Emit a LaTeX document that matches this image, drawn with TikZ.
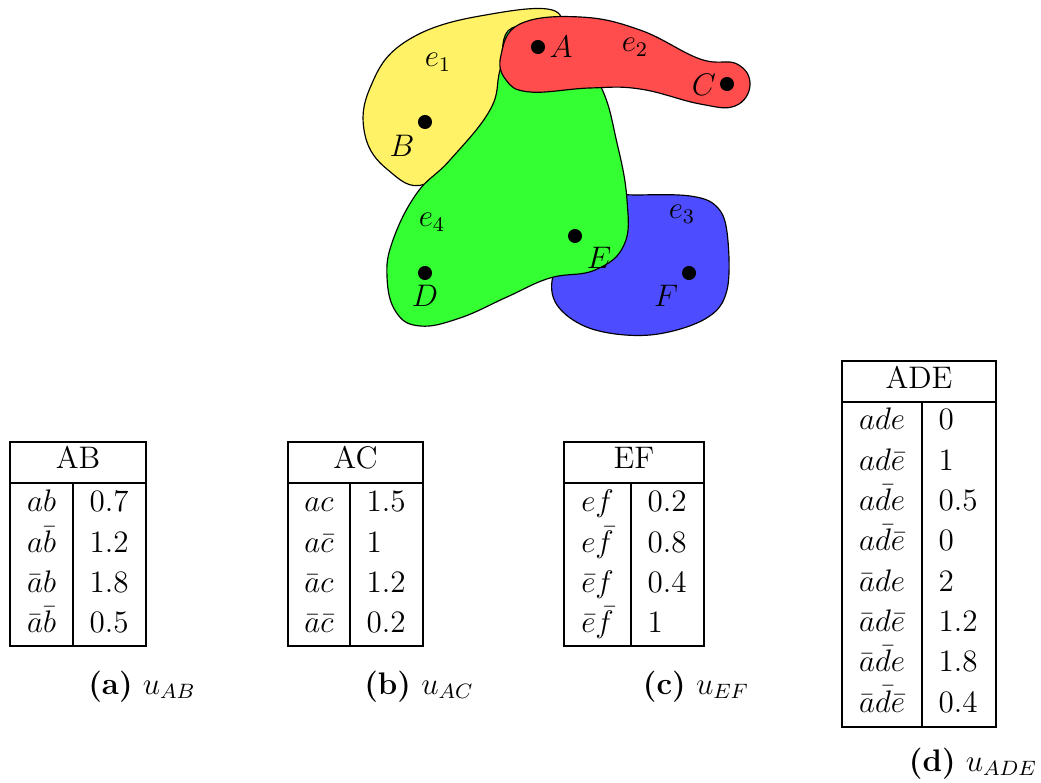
\documentclass[tikz,border=0pt]{standalone}
\definecolor{eyellow}{RGB}{255,242,102}
\definecolor{ered}{RGB}{255,77,77}
\definecolor{egreen}{RGB}{51,255,51}
\definecolor{eblue}{RGB}{77,77,255}
\begin{document}
\begin{tikzpicture}[x=0.385pt,y=-0.385pt,
  font=\fontsize{12}{14.5}\selectfont,
  hedge/.style={draw=black, line width=0.45pt},
  vertex/.style={circle, fill=black, inner sep=0pt, minimum size=5.4pt},
  vlabel/.style={inner sep=0pt, font=\fontsize{12}{14.5}\selectfont},
  cell/.style={anchor=base, inner sep=0pt},
  val/.style={anchor=base west, inner sep=0pt},
  rule/.style={draw=black, line width=0.4pt},
  caption/.style={anchor=base, inner sep=0pt}]
\useasboundingbox (0,0) rectangle (1041,783);

% ---------- hypergraph ----------
% e1 (yellow)
\path[hedge, fill=eyellow] plot[smooth cycle, tension=0.7] coordinates
  {(560,15) (480,16) (405,42) (370,88) (365,135) (388,170) (425,184) (470,140) (520,80)};
% e3 (blue)
\path[hedge, fill=eblue] plot[smooth cycle, tension=0.6] coordinates
  {(600,198) (640,195) (690,196) (716,206) (727,232) (727,290) (705,319) (650,335) (592,329) (557,305) (554,272) (580,228)};
% e4 (green)
\path[hedge, fill=egreen] plot[smooth cycle, tension=0.7] coordinates
  {(512,28) (565,40) (600,85) (617,143) (627,200) (624,245) (595,270) (550,278) (507,297) (460,318) (420,326) (396,312) (387,277) (393,240) (417,193) (450,160) (490,110) (500,70)};
% e2 (red)
\path[hedge, fill=ered] plot[smooth cycle, tension=0.7] coordinates
  {(501,55) (520,24) (580,17) (640,30) (700,59) (737,64) (750,85) (735,106) (700,104) (640,89) (590,88) (530,92) (506,80)};

\node[vertex] (A) at (538,47) {};
\node[vertex] (B) at (425,122) {};
\node[vertex] (C) at (727,84) {};
\node[vertex] (D) at (425,273) {};
\node[vertex] (E) at (575,236) {};
\node[vertex] (F) at (689,273) {};
\node[vlabel] (lA) at (561,47) {$A$};
\node[vlabel] (lB) at (402,146) {$B$};
\node[vlabel] (lC) at (704,85) {$C$};
\node[vlabel] (lD) at (425,296) {$D$};
\node[vlabel] (lE) at (599,258) {$E$};
\node[vlabel] (lF) at (666,296) {$F$};
\node[vlabel] (le1) at (438,62) {$e_1$};
\node[vlabel] (le2) at (635,47) {$e_2$};
\node[vlabel] (le3) at (682,214) {$e_3$};
\node[vlabel] (le4) at (432,222) {$e_4$};

% ---------- table AB ----------
\draw[rule] (10,442) rectangle (146,646);
\draw[rule] (10,483) -- (146,483);
\draw[rule] (73,483) -- (73,646);
\node[cell] (AB-h) at (78,469) {AB};
\foreach \l/\v [count=\i from 0] in {{$ab$}/0.7, {$a\bar{b}$}/1.2, {$\bar{a}b$}/1.8, {$\bar{a}\bar{b}$}/0.5}{
  \node[cell] (AB-l\i) at (41.5,{512+40.3*\i}) {\l};
  \node[val]  (AB-v\i) at (89,{512+40.3*\i}) {\v};
}
\node[caption] (capa) at (142,694) {\textbf{(a)} $u_{AB}$};

% ---------- table AC ----------
\draw[rule] (288,442) rectangle (423,646);
\draw[rule] (288,483) -- (423,483);
\draw[rule] (350,483) -- (350,646);
\node[cell] (AC-h) at (355.5,469) {AC};
\foreach \l/\v [count=\i from 0] in {{$ac$}/1.5, {$a\bar{c}$}/1, {$\bar{a}c$}/1.2, {$\bar{a}\bar{c}$}/0.2}{
  \node[cell] (AC-l\i) at (319,{512+40.3*\i}) {\l};
  \node[val]  (AC-v\i) at (366,{512+40.3*\i}) {\v};
}
\node[caption] (capb) at (419,694) {\textbf{(b)} $u_{AC}$};

% ---------- table EF ----------
\draw[rule] (564,442) rectangle (704,646);
\draw[rule] (564,483) -- (704,483);
\draw[rule] (631,483) -- (631,646);
\node[cell] (EF-h) at (634,469) {EF};
\foreach \l/\v [count=\i from 0] in {{$ef$}/0.2, {$e\bar{f}$}/0.8, {$\bar{e}f$}/0.4, {$\bar{e}\bar{f}$}/1}{
  \node[cell] (EF-l\i) at (597.5,{512+40.3*\i}) {\l};
  \node[val]  (EF-v\i) at (647,{512+40.3*\i}) {\v};
}
\node[caption] (capc) at (696,694) {\textbf{(c)} $u_{EF}$};

% ---------- table ADE ----------
\draw[rule] (842,361) rectangle (996,727);
\draw[rule] (842,402) -- (996,402);
\draw[rule] (922,402) -- (922,727);
\node[cell] (ADE-h) at (919,389) {ADE};
\foreach \l/\v [count=\i from 0] in {{$ade$}/0, {$ad\bar{e}$}/1, {$a\bar{d}e$}/0.5, {$a\bar{d}\bar{e}$}/0,
    {$\bar{a}de$}/2, {$\bar{a}d\bar{e}$}/1.2, {$\bar{a}\bar{d}e$}/1.8, {$\bar{a}\bar{d}\bar{e}$}/0.4}{
  \node[cell] (ADE-l\i) at (882,{430+40.3*\i}) {\l};
  \node[val]  (ADE-v\i) at (938,{430+40.3*\i}) {\v};
}
\node[caption] (capd) at (973,771) {\textbf{(d)} $u_{ADE}$};
\end{tikzpicture}
\end{document}
